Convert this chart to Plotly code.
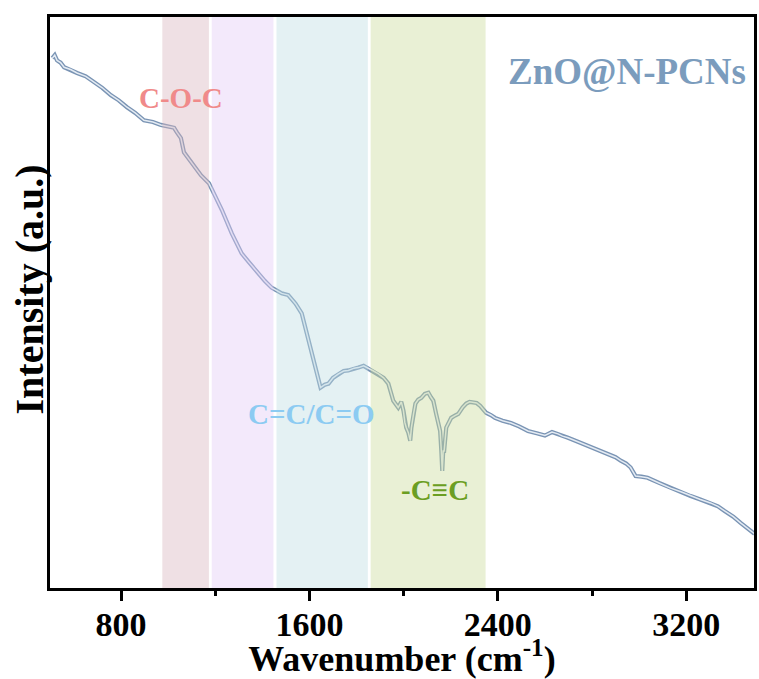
import plotly.graph_objects as go

# ---- data ----
wavenumber = [508, 518, 528, 543, 558, 585, 613, 650, 685, 720, 757, 790, 825, 860, 897, 935,
              969, 990, 1012, 1025, 1037, 1054, 1067, 1080, 1096, 1118, 1139, 1173, 1200, 1228,
              1270, 1312, 1340, 1372, 1410, 1439, 1482, 1510, 1541, 1567, 1596, 1626, 1647,
              1665, 1681, 1700, 1723, 1745, 1765, 1790, 1808, 1830, 1850, 1872, 1893, 1915,
              1935, 1956, 1977, 1990, 1999, 2005, 2011, 2020, 2028, 2033, 2042, 2050, 2062,
              2075, 2090, 2105, 2116, 2126, 2138, 2148, 2155, 2160, 2164, 2168, 2172, 2181,
              2192, 2202, 2218, 2232, 2250, 2266, 2280, 2295, 2310, 2325, 2350, 2370, 2388,
              2420, 2456, 2490, 2528, 2565, 2600, 2630, 2655, 2675, 2698, 2740, 2782, 2825,
              2867, 2900, 2922, 2945, 2964, 2985, 3010, 3036, 3085, 3134, 3180, 3219, 3260,
              3303, 3335, 3363, 3400, 3431, 3460, 3490]
intensity = [92.8, 93.3, 92.4, 92.0, 91.2, 90.8, 90.2, 89.6, 88.6, 87.6, 86.3, 85.4, 84.2, 83.2,
             81.9, 81.6, 81.1, 80.9, 80.7, 80.6, 79.8, 78.8, 76.3, 75.6, 74.6, 73.6, 72.3, 70.9,
             68.6, 66.2, 62.1, 58.6, 57.2, 55.6, 53.8, 52.6, 51.6, 51.3, 49.8, 48.1, 43.3, 38.6,
             35.1, 35.6, 35.8, 36.8, 37.5, 38.0, 38.1, 38.5, 38.6, 38.9, 38.4, 38.0, 37.5, 36.8,
             35.8, 32.8, 31.6, 32.6, 31.1, 29.0, 28.1, 27.2, 25.8, 28.1, 30.5, 32.3, 33.0,
             33.3, 34.0, 34.2, 33.4, 32.8, 30.5, 28.8, 27.5, 24.0, 20.5, 24.0, 24.0, 28.1,
             29.0, 29.8, 30.2, 30.5, 31.6, 32.3, 32.6, 32.5, 32.4, 31.9, 30.7, 30.3, 29.8,
             29.3, 28.9, 28.3, 27.5, 27.1, 26.7, 27.3, 27.0, 26.6, 26.3, 25.6, 24.9, 24.2,
             23.5, 22.9, 22.3, 21.8, 21.1, 19.6, 19.5, 19.3, 18.4, 17.5, 16.8, 16.1, 15.5,
             14.9, 14.3, 13.5, 12.5, 11.4, 10.5, 9.5]

band_starts = [975, 1185, 1460, 1860]
band_ends = [1173, 1447, 1848, 2348]
band_colors = ["rgb(215,178,188)", "rgb(225,200,245)", "rgb(188,220,226)", "rgb(200,217,150)"]

x_ticks = [800, 1600, 2400, 3200]
x_minor = [1200, 2000, 2800]

labels = ["C-O-C", "C=C/C=O", "-C\u2261C", "ZnO@N-PCNs"]
label_x = [1055, 1610, 2135, 2950]
label_y = [85.8, 30.5, 17.2, 90.5]
label_colors = ["#f08a8a", "#8ccbf2", "#6b9e22", "#7b9cbd"]
label_sizes = [29, 29, 29, 37]

FONT = "Times New Roman, Liberation Serif, Tinos, serif"
XR = [498, 3488]

fig = go.Figure()
fig.add_trace(go.Scatter(x=wavenumber, y=intensity, mode="lines",
                         line=dict(color="rgb(122,148,180)", width=4.2), hoverinfo="skip",
                         showlegend=False))
fig.add_trace(go.Scatter(x=wavenumber, y=intensity, mode="lines",
                         line=dict(color="rgb(228,235,243)", width=1.5), hoverinfo="skip",
                         showlegend=False))
# invisible trace to carry the tick-label axis
fig.add_trace(go.Scatter(x=XR, y=[0, 0], xaxis="x2", mode="lines",
                         line=dict(width=0), hoverinfo="skip", showlegend=False))

for s, e, c in zip(band_starts, band_ends, band_colors):
    fig.add_shape(type="rect", xref="x", yref="paper", x0=s, x1=e, y0=0, y1=1,
                  fillcolor=c, opacity=0.4, line=dict(width=0), layer="above")

for t, x, y, c, sz in zip(labels, label_x, label_y, label_colors, label_sizes):
    fig.add_annotation(x=x, y=y, text="<b>%s</b>" % t, showarrow=False,
                       font=dict(family=FONT, size=sz, color=c))

# y-axis title (placed slightly above the plot centre, as in the reference)
fig.add_annotation(xref="paper", yref="paper", x=-0.0297, y=0.523, textangle=-90,
                   xanchor="center", yanchor="middle",
                   text="<b>Intensity (a.u.)</b>", showarrow=False,
                   font=dict(family=FONT, size=40, color="black"))

fig.update_layout(
    width=759, height=679,
    margin=dict(l=50, r=2, t=17, b=91),
    paper_bgcolor="white", plot_bgcolor="white",
    font=dict(family=FONT, color="black"),
    showlegend=False,
    xaxis=dict(
        range=XR, tickvals=x_ticks, showticklabels=False,
        ticks="outside", ticklen=10, tickwidth=3, tickcolor="black",
        minor=dict(tickvals=x_minor, ticks="outside", ticklen=5, tickwidth=3, tickcolor="black"),
        showline=True, linewidth=3, linecolor="black", mirror=True, showgrid=False,
        zeroline=False,
    ),
    xaxis2=dict(
        range=XR, overlaying="x", side="bottom", anchor="y",
        tickvals=x_ticks, ticktext=["<b>%d</b>" % v for v in x_ticks], ticks="",
        ticklabelstandoff=13,
        tickfont=dict(family=FONT, size=34, color="black"),
        showline=False, showgrid=False, zeroline=False,
        title=dict(text="<b>Wavenumber (cm<sup>-1</sup>)</b>", font=dict(family=FONT, size=36),
                   standoff=0),
    ),
    yaxis=dict(
        range=[0, 100], showticklabels=False, ticks="",
        showline=True, linewidth=3, linecolor="black", mirror=True, showgrid=False,
        zeroline=False,
    ),
)

fig.write_html("out.html")
